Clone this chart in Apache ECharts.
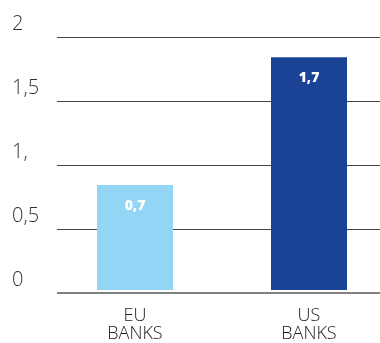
<!DOCTYPE html>
<html>
<head>
<meta charset="utf-8">
<script src="https://cdn.jsdelivr.net/npm/echarts@6/dist/echarts.min.js"></script>
<style>
	html, body { margin: 0; padding: 0; background: #fff; }
	#chart { width: 380px; height: 343px; }
</style>
</head>
<body>
<div id="chart"></div>
<script>
const categories = ['EU\nBANKS', 'US\nBANKS'];
const barValues = [0.83, 1.84];
const barLabels = ['0,7', '1,7'];
const barColors = ['#93d5f5', '#1a4396'];
const tickLabels = ['0', '0,5', '1,', '1,5', '2'];

const chart = echarts.init(document.getElementById('chart'));
const option = {
	animation: false,
	grid: [
		// grid for the gridlines and y labels
		{ left: 57, right: 0, top: 37, bottom: 50 },
		// grid for the bars: categories sit on the grid edges
		{ left: 135, right: 71, top: 37, bottom: 50 }
	],
	xAxis: [
		{ gridIndex: 0, type: 'category', data: categories, show: false },
		{
			gridIndex: 1,
			type: 'category',
			data: categories,
			boundaryGap: false,
			axisLine: { show: false },
			axisTick: { show: false },
			axisLabel: {
				color: '#1a1a1a',
				fontFamily: 'Open Sans',
				fontWeight: 300,
				fontSize: 18,
				lineHeight: 18,
				margin: 17
			}
		}
	],
	yAxis: [
		{
			gridIndex: 0,
			type: 'value',
			min: 0,
			max: 2,
			interval: 0.5,
			axisLine: { show: false },
			axisTick: { show: false },
			splitLine: {
				lineStyle: { color: '#444', width: 1 }
			},
			axisLabel: {
				align: 'left',
				verticalAlign: 'bottom',
				margin: 45,
				padding: [0, 0, 3, 0],
				color: '#333',
				fontFamily: 'Open Sans',
				fontWeight: 300,
				fontSize: 20,
				formatter: function (v) {
					return tickLabels[Math.round(v / 0.5)];
				}
			}
		},
		{ gridIndex: 1, type: 'value', min: 0, max: 2, show: false }
	],
	series: [
		{
			type: 'bar',
			xAxisIndex: 1,
			yAxisIndex: 1,
			barWidth: 76,
			data: barValues.map(function (v, i) {
				return { value: v, itemStyle: { color: barColors[i] } };
			}),
			label: {
				show: true,
				position: 'insideTop',
				distance: 14,
				color: '#fff',
				fontFamily: 'Open Sans',
				fontWeight: 800,
				fontSize: 14,
				formatter: function (p) { return barLabels[p.dataIndex]; }
			},
			z: 3
		},
		{
			// baseline drawn across the y grid
			type: 'line',
			xAxisIndex: 0,
			yAxisIndex: 0,
			data: [],
			markLine: {
				silent: true,
				symbol: 'none',
				label: { show: false },
				lineStyle: { color: '#808080', width: 2, type: 'solid' },
				data: [{ yAxis: 0 }]
			},
			z: 4
		}
	]
};
chart.setOption(option);
</script>
</body>
</html>
